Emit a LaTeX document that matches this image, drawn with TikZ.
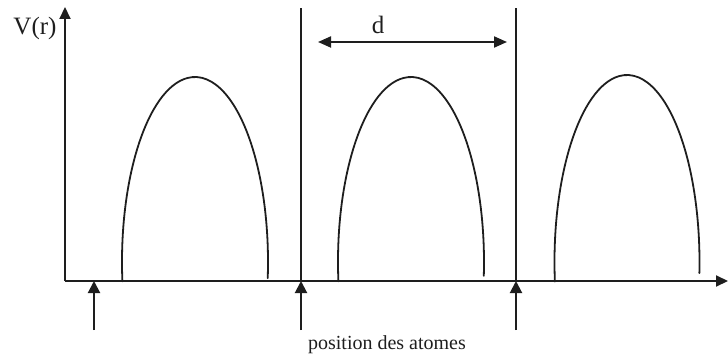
\documentclass[tikz,border=0pt]{standalone}
\usepackage{fontspec}
\setmainfont{Liberation Serif}
\usetikzlibrary{arrows.meta}
\definecolor{PotInk}{HTML}{1E1E1E}
\tikzset{
  potline/.style={draw=PotInk,line width=1pt},
  potaxis/.style={potline,-{Triangle[length=6pt,width=5.5pt]}},
  potdist/.style={potline,{Triangle[length=6.5pt,width=5.5pt]}-{Triangle[length=6.5pt,width=5.5pt]}},
  potatom/.style={potline,-{Triangle[length=6pt,width=6pt]}},
  potbump/.style={potline,line width=0.9pt,line cap=round},
  potlabel/.style={text=PotInk,inner sep=0pt,font=\fontsize{12.5}{14}\selectfont},
  potnote/.style={text=PotInk,inner sep=0pt,font=\fontsize{10}{12}\selectfont}
}

\begin{document}
\begin{tikzpicture}[x=0.5pt,y=0.5pt]
        \useasboundingbox (0,0) rectangle (728,354);
        % axes
        \coordinate (origin) at (65,73);
        \coordinate (vtop) at (65,347);
        \coordinate (rend) at (728,73);
        \draw[potaxis] (origin) -- (vtop);
        \draw[potaxis] (origin) -- (rend);
        \node[potlabel] (vlabel) at (35,326) {V(r)};
        % cell borders
        \coordinate (wallA) at (301,73);
        \coordinate (wallAtop) at (301,346);
        \coordinate (wallB) at (516,73);
        \coordinate (wallBtop) at (516,346);
        \draw[potline] (wallA) -- (wallAtop);
        \draw[potline] (wallB) -- (wallBtop);
        % lattice spacing
        \coordinate (dleft) at (318,312);
        \coordinate (dright) at (507,312);
        \draw[potdist] (dleft) -- (dright);
        \node[potlabel,anchor=base] (dlabel) at (378,320) {d};
        % potential barriers
        \draw[potbump] (195,92) ++(186:73 and 185) arc[start angle=186,end angle=-5,x radius=73,y radius=185];
        \draw[potbump] (411,92) ++(186:73 and 185) arc[start angle=186,end angle=-4.3,x radius=73,y radius=185];
        \draw[potbump] (627,92) ++(186:72.5 and 187) arc[start angle=186,end angle=-3.4,x radius=72.5,y radius=187];
        % atoms
        \foreach \ax/\nm in {94/atomA,301/atomB,516/atomC}{
          \coordinate (\nm tail) at (\ax,24);
          \coordinate (\nm) at (\ax,73);
          \draw[potatom] (\nm tail) -- (\nm);
        }
        \node[potnote,anchor=base] (atomnote) at (387,5) {position des atomes};
      \end{tikzpicture}
\end{document}
